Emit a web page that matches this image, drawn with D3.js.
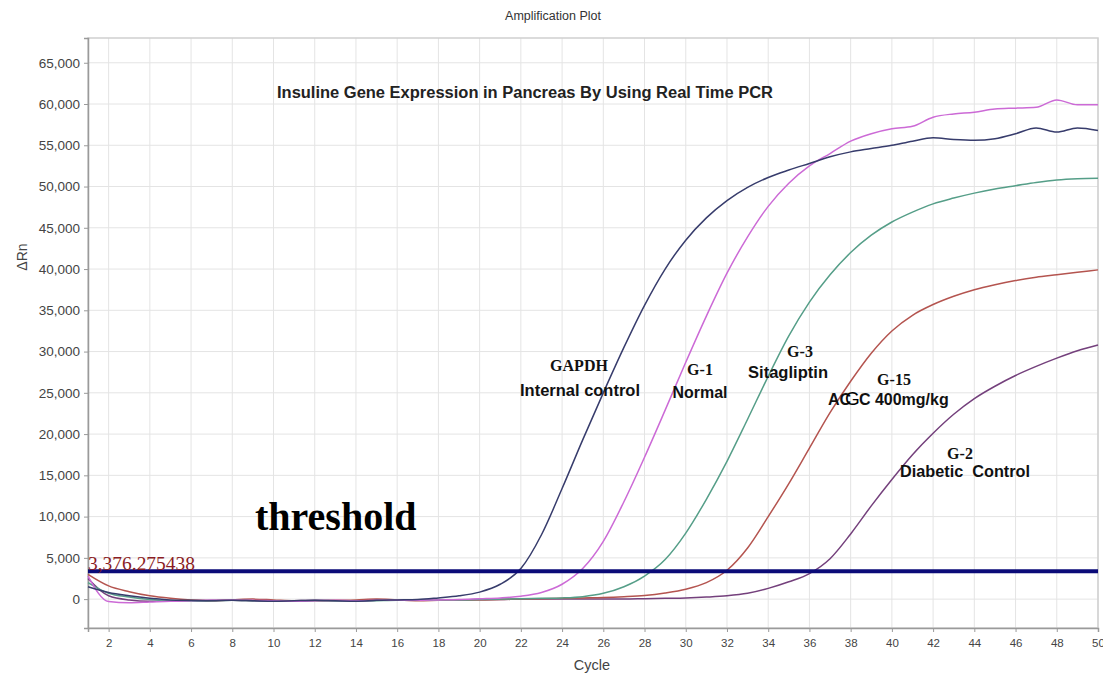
<!DOCTYPE html>
<html>
<head>
<meta charset="utf-8">
<script src="https://cdn.jsdelivr.net/npm/d3@7"></script>
<style>
  body { margin: 0; background: #fff; }
  svg { display: block; font-family: "Liberation Sans", Arial, sans-serif; }
</style>
</head>
<body>
<svg width="1103" height="677"></svg>
<script>
// cycles 1..50
var cycles = d3.range(1, 51);

// delta Rn per cycle
var gapdh = [1500, 800, 400, 100, -100, -150, -200, -150, -200, -250,
  -200, -150, -200, -250, -150, -100, -50, 150, 400, 850,
  1800, 3700, 7800, 13400, 19300, 25000, 30500, 35600, 40000, 43500,
  46200, 48300, 49900, 51100, 52000, 52800, 53600, 54200, 54600, 55000,
  55500, 55900, 55700, 55600, 55800, 56400, 57100, 56600, 57100, 56800];
var g1 = [2800, -300, -450, -350, -250, -200, -150, -100, -150, -200,
  -250, -200, -150, -200, -150, -100, -150, -100, -50, 50,
  150, 350, 800, 1800, 3700, 7000, 11800, 17200, 22900, 28700,
  34300, 39500, 43900, 47600, 50400, 52500, 54000, 55500, 56400, 57000,
  57300, 58400, 58800, 59000, 59400, 59500, 59600, 60500, 59900, 59900];
var g3 = [2000, 700, 250, -50, -200, -250, -200, -150, -200, -250,
  -250, -200, -200, -250, -200, -150, -150, -100, -100, -50,
  0, 50, 100, 150, 300, 700, 1500, 2800, 4800, 8000,
  12100, 16700, 21800, 27000, 31900, 36000, 39300, 42000, 44100, 45700,
  46900, 47900, 48600, 49200, 49700, 50100, 50500, 50800, 50950, 51000];
var g15 = [3000, 1600, 900, 400, 100, -100, -200, -100, 0, -100,
  -200, -200, -150, -100, 0, -100, -200, -150, -100, -100,
  -50, 0, 50, 100, 150, 200, 300, 450, 750, 1200,
  2000, 3500, 6200, 10000, 14000, 18300, 22600, 26400, 29800, 32500,
  34400, 35700, 36700, 37500, 38100, 38600, 39000, 39300, 39600, 39900];
var g2 = [2500, 400, -100, -250, -250, -200, -150, -150, -200, -250,
  -200, -150, -200, -200, -150, -150, -100, -100, -100, -50,
  -50, 0, 0, 0, 0, 0, 0, 50, 100, 150,
  250, 400, 700, 1300, 2100, 3100, 4900, 7900, 11300, 14500,
  17500, 20100, 22400, 24300, 25800, 27100, 28200, 29200, 30100, 30800];

var seriesNames = ["G-2", "G-15", "G-3", "G-1", "GAPDH"];
var seriesData = [g2, g15, g3, g1, gapdh];
var seriesColors = ["#74407c", "#b4544f", "#559e88", "#cc6ad6", "#373c6c"];

var threshold = 3376.275438;
var yTicks = d3.range(0, 65001, 5000);
var xTicks = d3.range(2, 51, 2);

var svg = d3.select("svg");
var plotL = 88, plotR = 1098, plotT = 38, plotB = 628;

var x = d3.scaleLinear().domain([1, 50]).range([plotL, plotR]);
var y = d3.scaleLinear().domain([-3500, 68000]).range([plotB, plotT]);

// grid
svg.append("g").selectAll("line").data(xTicks).enter().append("line")
  .attr("x1", d => x(d)).attr("x2", d => x(d))
  .attr("y1", plotT).attr("y2", plotB)
  .attr("stroke", "#e4e4e4");
svg.append("g").selectAll("line").data(yTicks).enter().append("line")
  .attr("x1", plotL).attr("x2", plotR)
  .attr("y1", d => y(d)).attr("y2", d => y(d))
  .attr("stroke", "#e4e4e4");

// frame
svg.append("rect")
  .attr("x", plotL).attr("y", plotT)
  .attr("width", plotR - plotL).attr("height", plotB - plotT)
  .attr("fill", "none").attr("stroke", "#cfcfcf").attr("stroke-width", 1.5);

// axes
var yAxis = svg.append("g").attr("transform", "translate(" + plotL + ",0)")
  .call(d3.axisLeft(y).tickValues(yTicks).tickFormat(d3.format(",")).tickSize(4).tickPadding(4));
var xAxis = svg.append("g").attr("transform", "translate(0," + plotB + ")")
  .call(d3.axisBottom(x).tickValues(xTicks).tickSize(4).tickPadding(7));
[yAxis, xAxis].forEach(function(a) {
  a.select(".domain").attr("stroke", "#9a9a9a").attr("stroke-width", 1.5);
  a.selectAll(".tick line").attr("stroke", "#9a9a9a");
  a.selectAll("text").attr("fill", "#444")
    .style("font-family", "Liberation Sans, Arial, sans-serif");
});
yAxis.selectAll("text").style("font-size", "13.5px");
xAxis.selectAll("text").style("font-size", "11.5px");

// curves
var line = d3.line().x((d, i) => x(cycles[i])).y(d => y(d)).curve(d3.curveMonotoneX);
svg.append("g").selectAll("path").data(seriesData).enter().append("path")
  .attr("d", line)
  .attr("fill", "none")
  .attr("stroke", (d, i) => seriesColors[i])
  .attr("stroke-width", 1.5);

// threshold
svg.append("line")
  .attr("x1", plotL).attr("x2", plotR)
  .attr("y1", y(threshold)).attr("y2", y(threshold))
  .attr("stroke", "#0b0b78").attr("stroke-width", 4);
svg.append("text")
  .attr("x", plotL).attr("y", y(threshold) - 1)
  .attr("textLength", 107).attr("lengthAdjust", "spacingAndGlyphs")
  .style("font-family", "Liberation Serif, Times New Roman, serif")
  .style("font-size", "18px").attr("fill", "#8b1c24")
  .text(d3.format(",.6f")(threshold));

svg.append("text")
  .attr("x", 255).attr("y", 530)
  .style("font-family", "Liberation Serif, Times New Roman, serif")
  .style("font-size", "40px").style("font-weight", "bold")
  .text("threshold");

// titles
svg.append("text").attr("x", 553).attr("y", 20).attr("text-anchor", "middle")
  .style("font-size", "12.5px").attr("fill", "#333").text("Amplification Plot");
svg.append("text").attr("x", 277).attr("y", 98)
  .attr("textLength", 496).attr("lengthAdjust", "spacingAndGlyphs")
  .style("font-size", "16px").style("font-weight", "bold").attr("fill", "#222")
  .text("Insuline Gene Expression in Pancreas By Using Real Time PCR");
svg.append("text").attr("x", 592).attr("y", 670).attr("text-anchor", "middle")
  .style("font-size", "14.5px").attr("fill", "#444").text("Cycle");
svg.append("text").attr("transform", "translate(27,257) rotate(-90)")
  .attr("text-anchor", "middle")
  .style("font-size", "14px").attr("fill", "#444").text("\u0394Rn");

// curve labels
var labelTop = ["GAPDH", "G-1", "G-3", "G-15", "G-2"];
var labelBottom = ["Internal control", "Normal", "Sitagliptin", "", "Diabetic  Control"];
var labelX = [579, 700, 800, 894, 960];
var labelY = [371, 375, 357, 385, 459];
var subX = [580, 700, 788, 892, 965];
var subY = [396, 398, 378, 405, 477];
var subW = [120, 55, 80, 0, 130];

var lab = svg.append("g").attr("fill", "#111");
labelTop.forEach(function(t, i) {
  lab.append("text").attr("x", labelX[i]).attr("y", labelY[i]).attr("text-anchor", "middle")
    .style("font-family", "Liberation Serif, Times New Roman, serif")
    .style("font-size", "16px").style("font-weight", "bold").text(t);
  if (!labelBottom[i]) return;
  lab.append("text").attr("x", subX[i] - subW[i] / 2).attr("y", subY[i])
    .attr("textLength", subW[i]).attr("lengthAdjust", "spacingAndGlyphs")
    .style("font-size", "17px").style("font-weight", "bold")
    .style("white-space", "pre").text(labelBottom[i]);
});
// G-15 dose label, with the overstruck G
var dose = lab.append("text").attr("x", 828).attr("y", subY[3])
  .style("font-size", "16px").style("font-weight", "bold");
dose.append("tspan").text("AC");
dose.append("tspan").attr("dx", -6).style("font-size", "19px").style("font-weight", "normal")
  .attr("fill", "#000").text("G");
dose.append("tspan").attr("dx", -1).text("C 400mg/kg");
</script>
</body>
</html>
